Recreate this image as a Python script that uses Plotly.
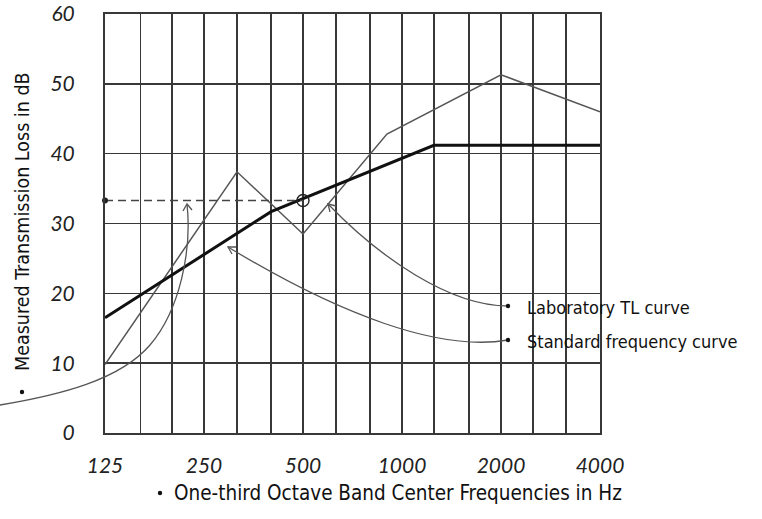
import plotly.graph_objects as go
import math

# ---------------- data ----------------
band_freqs = [125, 160, 200, 250, 315, 400, 500, 630, 800, 1000,
              1250, 1600, 2000, 2500, 3150, 4000]
octave_labels = {125: "125", 250: "250", 500: "500", 1000: "1000",
                 2000: "2000", 4000: "4000"}
y_ticks = [0, 10, 20, 30, 40, 50, 60]

std_freqs = [125, 400, 1250, 4000]
std_values = [16.5, 31.7, 41.2, 41.2]

tl_freqs = [125, 315, 500, 900, 2000, 4000]
tl_values = [9.8, 37.4, 28.5, 42.8, 51.3, 46.0]

stc_freq = 500
stc_value = 33.3

# ---------------- layout helpers ----------------
W, H = 762, 519
L, R, T, B = 105, 600, 14, 433


def px(x, y):
    return ((x - L) / (R - L), (B - y) / (B - T))


def path(cmds):
    out = []
    for c in cmds:
        if isinstance(c, str):
            out.append(c)
        else:
            xx, yy = px(*c)
            out.append(f"{xx:.5f},{yy:.5f}")
    return " ".join(out)


GRID = "#383838"
HAND = "DejaVu Sans Condensed, Liberation Sans Narrow, Roboto, sans-serif"
TICKF = "Lato, Open Sans, sans-serif"

fig = go.Figure()

fig.add_trace(go.Scatter(x=tl_freqs, y=tl_values, mode="lines",
                         line=dict(color="#555555", width=1.5),
                         hoverinfo="skip", showlegend=False))
fig.add_trace(go.Scatter(x=std_freqs, y=std_values, mode="lines",
                         line=dict(color="#111111", width=3),
                         hoverinfo="skip", showlegend=False))
fig.add_trace(go.Scatter(x=[band_freqs[0], stc_freq], y=[stc_value, stc_value],
                         mode="lines", line=dict(color="#444444", width=1.6, dash="8px,5px"),
                         hoverinfo="skip", showlegend=False))
fig.add_trace(go.Scatter(x=[band_freqs[0]], y=[stc_value], mode="markers",
                         marker=dict(color="#222222", size=6),
                         hoverinfo="skip", showlegend=False, cliponaxis=False))
fig.add_trace(go.Scatter(x=[stc_freq], y=[stc_value], mode="markers",
                         marker=dict(symbol="circle-open", color="#222222", size=12,
                                     line=dict(width=1.4)),
                         hoverinfo="skip", showlegend=False))

shapes = []
ANN = dict(color="#555555", width=1.3)
# leader from "Laboratory TL curve"
shapes.append(dict(type="path", xref="paper", yref="paper", line=ANN,
                   path=path(["M", (508, 306), "C", (450, 306), (380, 258), (328, 204)])))
shapes.append(dict(type="path", xref="paper", yref="paper", line=ANN,
                   path=path(["M", (330, 212), "L", (328, 204), "L", (336, 206)])))
# leader from "Standard frequency curve"
shapes.append(dict(type="path", xref="paper", yref="paper", line=ANN,
                   path=path(["M", (508, 340), "C", (440, 352), (340, 315), (228, 247)])))
shapes.append(dict(type="path", xref="paper", yref="paper", line=ANN,
                   path=path(["M", (232, 254), "L", (228, 247), "L", (236, 247)])))
# leader from y title to dashed line
shapes.append(dict(type="path", xref="paper", yref="paper", line=ANN,
                   path=path(["M", (0, 405), "C", (60, 395), (120, 380), (150, 345),
                              "S", (192, 250), (187, 204)])))
shapes.append(dict(type="path", xref="paper", yref="paper", line=ANN,
                   path=path(["M", (183, 211), "L", (187, 204), "L", (192, 210)])))

# bullets
for bx, by in [(508, 306), (508, 340), (22, 392), (160, 493)]:
    x0, y0 = px(bx - 2.2, by + 2.2)
    x1, y1 = px(bx + 2.2, by - 2.2)
    shapes.append(dict(type="circle", xref="paper", yref="paper",
                       x0=x0, y0=y0, x1=x1, y1=y1,
                       fillcolor="#111111", line=dict(width=0)))

annotations = []
ax, ay = px(525, 307)
annotations.append(dict(text="Laboratory TL curve", x=ax, y=ay, xref="paper", yref="paper",
                        xanchor="left", yanchor="middle", showarrow=False,
                        font=dict(family=HAND, size=18, color="#111111")))
ax, ay = px(525, 341)
annotations.append(dict(text="Standard frequency curve", x=ax, y=ay, xref="paper", yref="paper",
                        xanchor="left", yanchor="middle", showarrow=False,
                        font=dict(family=HAND, size=18, color="#111111")))
ax, ay = px(398, 493)
annotations.append(dict(text="One-third Octave Band Center Frequencies in Hz", x=ax, y=ay,
                        xref="paper", yref="paper", xanchor="center", yanchor="middle",
                        showarrow=False, font=dict(family=HAND, size=20.5, color="#111111")))
ax, ay = px(22, 222)
annotations.append(dict(text="Measured Transmission Loss in dB", x=ax, y=ay, textangle=-90,
                        xref="paper", yref="paper", xanchor="center", yanchor="middle",
                        showarrow=False, font=dict(family=HAND, size=19.5, color="#111111")))

fig.update_layout(
    width=W, height=H,
    margin=dict(l=L, r=W - R, t=T, b=H - B, autoexpand=False),
    paper_bgcolor="white", plot_bgcolor="white",
    shapes=shapes, annotations=annotations,
    showlegend=False,
)
fig.update_xaxes(type="log", range=[math.log10(band_freqs[0]), math.log10(band_freqs[-1])],
                 tickvals=band_freqs,
                 ticktext=[octave_labels.get(f, "") for f in band_freqs],
                 showgrid=True, gridcolor=GRID, gridwidth=1.5,
                 showline=True, mirror=True, linecolor=GRID, linewidth=2,
                 ticks="", ticklabelstandoff=13, automargin=False,
                 tickfont=dict(family=TICKF, size=21, style="italic", color="#222222"),
                 zeroline=False)
fig.update_yaxes(range=[0, 60], tickvals=y_ticks,
                 showgrid=True, gridcolor=GRID, gridwidth=1.5,
                 showline=True, mirror=True, linecolor=GRID, linewidth=2,
                 ticks="", ticklabelstandoff=24, automargin=False,
                 tickfont=dict(family=TICKF, size=21, style="italic", color="#222222"),
                 zeroline=False)

fig.write_html("out.html",
               config={"displayModeBar": False, "staticPlot": True},
               post_script="document.body.style.margin='0px';document.body.style.overflow='hidden';")
